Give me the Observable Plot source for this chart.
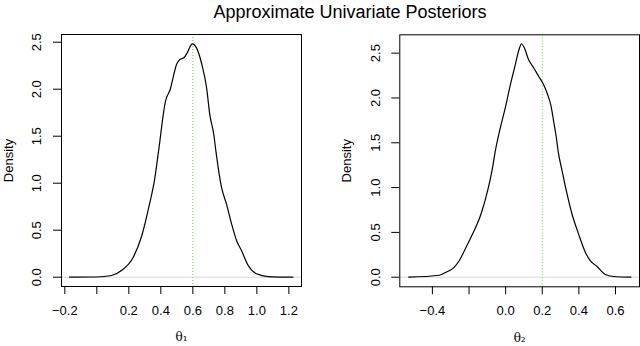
<!DOCTYPE html>
<html>
<head>
<meta charset="utf-8">
<script src="https://cdn.jsdelivr.net/npm/d3@7"></script>
<script src="https://cdn.jsdelivr.net/npm/@observablehq/plot@0.6"></script>
<style>
  html, body { margin: 0; padding: 0; background: white; }
  #wrap { position: relative; width: 640px; height: 346px; overflow: hidden; background: white; }
  #title { position: absolute; top: 1px; left: 0; width: 700px; text-align: center; z-index: 5;
           font-family: "Liberation Sans", Arial, Helvetica, sans-serif; font-size: 18px; line-height: 22px; color: black; }
  .panel { position: absolute; top: 0; z-index: 1; }
</style>
</head>
<body>
<div id="wrap">
  <div id="title">Approximate Univariate Posteriors</div>
</div>
<script>
// ---- data ----
const title = "Approximate Univariate Posteriors";

const theta1X = [-0.17, 0.0, 0.092, 0.154, 0.227, 0.279, 0.325, 0.363, 0.385, 0.429, 0.461, 0.481, 0.498, 0.519, 0.544, 0.565, 0.59, 0.596, 0.623, 0.659, 0.686, 0.706, 0.731, 0.745, 0.779, 0.81, 0.842, 0.873, 0.904, 0.946, 0.998, 1.07, 1.225];
const theta1D = [0, 0.002, 0.018, 0.071, 0.21, 0.43, 0.745, 1.06, 1.33, 1.87, 2.01, 2.156, 2.263, 2.316, 2.334, 2.387, 2.475, 2.483, 2.44, 2.245, 2.015, 1.73, 1.518, 1.33, 0.957, 0.78, 0.568, 0.39, 0.284, 0.124, 0.036, 0.007, 0];

const theta2X = [-0.529, -0.362, -0.325, -0.28, -0.253, -0.216, -0.18, -0.134, -0.098, -0.071, -0.058, -0.029, -0.002, 0.026, 0.053, 0.076, 0.086, 0.102, 0.125, 0.153, 0.18, 0.207, 0.229, 0.248, 0.262, 0.277, 0.288, 0.308, 0.331, 0.362, 0.398, 0.435, 0.462, 0.499, 0.544, 0.589, 0.684];
const theta2D = [0, 0.022, 0.056, 0.112, 0.186, 0.335, 0.484, 0.708, 0.968, 1.228, 1.39, 1.667, 1.89, 2.15, 2.374, 2.56, 2.605, 2.56, 2.43, 2.337, 2.243, 2.15, 2.039, 1.908, 1.741, 1.556, 1.39, 1.19, 0.968, 0.708, 0.484, 0.279, 0.186, 0.119, 0.03, 0.008, 0];

const trueValues = [0.6, 0.2];
const axisTitles = ["θ₁", "θ₂"];
const yTicks = [0, 0.5, 1.0, 1.5, 2.0, 2.5];
const x1Ticks = [-0.2, 0.0, 0.2, 0.4, 0.6, 0.8, 1.0, 1.2];
const x1Labelled = [-0.2, 0.2, 0.4, 0.6, 0.8, 1.0, 1.2];
const x2Ticks = [-0.4, -0.2, 0.0, 0.2, 0.4, 0.6];
const x2Labelled = [-0.4, 0.0, 0.2, 0.4, 0.6];

// ---- drawing ----
const sans = "'Liberation Sans', Arial, Helvetica, sans-serif";
const fmt = d => (d < 0 ? "\u2212" : "") + Math.abs(d).toFixed(1);
const FS = 13;

function panel({xs, ds, truth, xTicks, xLabelled, xLabel, xDomain, yDomain, margins}) {
  const data = xs.map((x, i) => ({x, d: ds[i]}));
  return Plot.plot({
    width: 320,
    height: 346,
    ...margins,
    x: {domain: xDomain},
    y: {domain: yDomain},
    style: {fontFamily: sans, fontSize: FS + "px", background: "transparent", color: "black", overflow: "visible"},
    marks: [
      Plot.ruleY([0], {stroke: "#e4e4e4", strokeWidth: 1.5}),
      Plot.ruleX([truth], {stroke: "#61D04F", strokeWidth: 1, strokeDasharray: "1,2"}),
      Plot.line(data, {x: "x", y: "d", curve: "monotone-x", stroke: "black", strokeWidth: 1.2}),
      Plot.frame({stroke: "black", strokeWidth: 1}),
      Plot.axisX(xTicks, {tickSize: 8, tickPadding: 11, fontSize: FS,
        tickFormat: d => xLabelled.some(v => Math.abs(v - d) < 1e-9) ? fmt(d) : "", label: null}),
      Plot.axisY(yTicks, {tickSize: 8, tickFormat: () => "", label: null}),
      Plot.text(yTicks, {y: d => d, text: d => d.toFixed(1), frameAnchor: "left", dx: -24.3, rotate: -90,
        textAnchor: "middle", lineAnchor: "middle", fontSize: FS}),
      Plot.text(["Density"], {frameAnchor: "left", dx: -53, rotate: -90, textAnchor: "middle", lineAnchor: "middle", fontSize: FS}),
      Plot.text([xLabel], {frameAnchor: "bottom", dy: 51, textAnchor: "middle", lineAnchor: "middle", fontSize: 12,
        fontFamily: "'DejaVu Serif', 'Liberation Serif', serif"})
    ]
  });
}

const left = panel({
  xs: theta1X, ds: theta1D, truth: trueValues[0], xTicks: x1Ticks, xLabelled: x1Labelled, xLabel: axisTitles[0],
  xDomain: [-0.2206, 1.279], yDomain: [-0.099, 2.582],
  margins: {marginLeft: 61, marginRight: 19, marginTop: 34, marginBottom: 60}
});
const right = panel({
  xs: theta2X, ds: theta2D, truth: trueValues[1], xTicks: x2Ticks, xLabelled: x2Labelled, xLabel: axisTitles[1],
  xDomain: [-0.578, 0.731], yDomain: [-0.107, 2.705],
  margins: {marginLeft: 79.3, marginRight: 1, marginTop: 34.3, marginBottom: 59.7}
});
left.classList.add("panel");  left.style.left = "0px";
right.classList.add("panel"); right.style.left = "320px";
const wrap = document.getElementById("wrap");
wrap.appendChild(left);
wrap.appendChild(right);
document.getElementById("title").textContent = title;
</script>
</body>
</html>
